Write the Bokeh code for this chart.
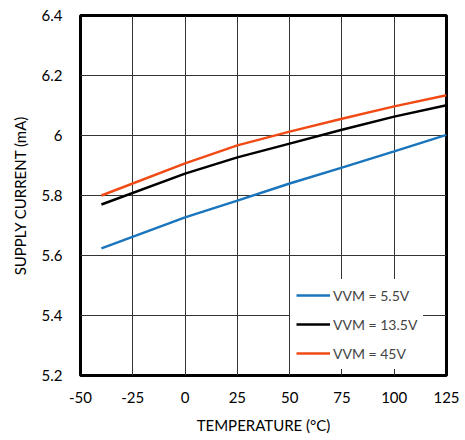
from bokeh.plotting import figure
from bokeh.models import FixedTicker, Range1d, Legend, LegendItem
from bokeh.embed import file_html
from bokeh.resources import INLINE

# Supply current vs temperature for three supply voltages
temperature = [-40, 0, 25, 50, 75, 100, 125]
i_5v5 = [5.624, 5.727, 5.783, 5.840, 5.893, 5.947, 6.002]
i_13v5 = [5.770, 5.873, 5.927, 5.973, 6.019, 6.063, 6.101]
i_45v = [5.800, 5.907, 5.967, 6.013, 6.056, 6.097, 6.134]

x_ticks = [-50, -25, 0, 25, 50, 75, 100, 125]
x_tick_labels = {-50: "-50", -25: "-25", 0: "0", 25: "25", 50: "50", 75: "75", 100: "100", 125: "125"}
y_ticks = [5.2, 5.4, 5.6, 5.8, 6.0, 6.2, 6.4]
y_tick_labels = {5.2: "5.2", 5.4: "5.4", 5.6: "5.6", 5.8: "5.8", 6.0: "6", 6.2: "6.2", 6.4: "6.4"}

series_labels = ["VVM = 5.5V", "VVM = 13.5V", "VVM = 45V"]
series_colors = ["#1a75bc", "#000000", "#f04b16"]

FONT = "Lato"

p = figure(width=465, height=440, output_backend="svg", toolbar_location=None,
           x_range=Range1d(-50, 125), y_range=Range1d(5.2, 6.4),
           min_border_left=80, min_border_right=19, min_border_top=15, min_border_bottom=65)

p.outline_line_color = "black"
p.outline_line_width = 3

for ax in (p.xaxis[0], p.yaxis[0]):
    ax.axis_line_color = None
    ax.major_tick_line_color = None
    ax.minor_tick_line_color = None
    ax.major_label_text_font = FONT
    ax.major_label_text_font_size = "15px"
    ax.major_label_text_color = "black"
    ax.axis_label_text_font = FONT
    ax.axis_label_text_font_size = "15px"
    ax.axis_label_text_font_style = "normal"
    ax.axis_label_text_color = "black"

p.xaxis.ticker = FixedTicker(ticks=x_ticks)
p.yaxis.ticker = FixedTicker(ticks=y_ticks)
p.xaxis.major_label_overrides = x_tick_labels
p.yaxis.major_label_overrides = y_tick_labels
p.xaxis.axis_label = "TEMPERATURE (°C)"
p.yaxis.axis_label = "SUPPLY CURRENT (mA)"
p.xaxis.major_label_standoff = 10
p.yaxis.major_label_standoff = 12
p.xaxis.axis_label_standoff = 10
p.yaxis.axis_label_standoff = 10

p.xgrid.grid_line_color = "#333333"
p.ygrid.grid_line_color = "#333333"
p.xgrid.grid_line_width = 1
p.ygrid.grid_line_width = 1

renderers = []
for ys, c in zip([i_5v5, i_13v5, i_45v], series_colors):
    r = p.line(temperature, ys, line_color=c, line_width=2.5)
    renderers.append(r)

legend = Legend(items=[LegendItem(label=l, renderers=[r]) for l, r in zip(series_labels, renderers)],
                location=(210, 6))
legend.background_fill_color = "white"
legend.background_fill_alpha = 1
legend.border_line_alpha = 0
legend.padding = 6
legend.spacing = 9
legend.glyph_width = 34
legend.glyph_height = 20
legend.label_height = 20
legend.label_standoff = 3
legend.label_text_font = FONT
legend.label_text_font_size = "14px"
legend.margin = 0
p.add_layout(legend, "center")

open("out.html", "w").write(file_html(p, INLINE))
